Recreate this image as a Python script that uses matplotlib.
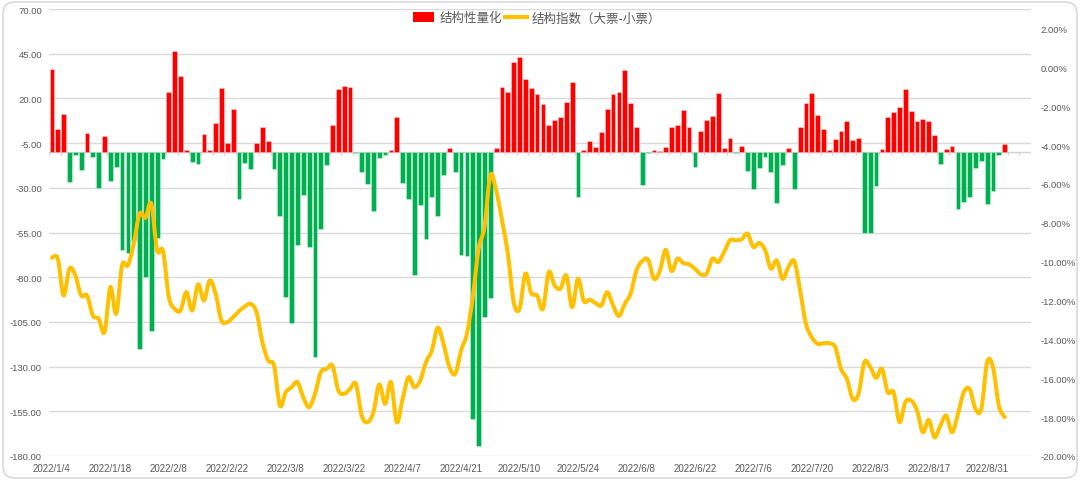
import numpy as np
import matplotlib
matplotlib.use('Agg')
import matplotlib.pyplot as plt
from matplotlib.path import Path
from matplotlib.patches import PathPatch, Patch, FancyBboxPatch
from matplotlib.lines import Line2D

# bar tops (left axis), bars hang from the category axis at BASE
bar_values = [
    36.5, 2.8, 11, -26.5, -11.7, -20.3, 0.8, -12.5, -30, -1.3,
    -26.1, -18.6, -64.9, -66.6, -59.5, -120.1, -80, -109.9, -58, -14.1,
    23.4, 46.5, 32.5, -8.7, -15.3, -16.8, -0.1, -8.9, 6.2, 25.8,
    -4.8, 14, -36, -16.4, -19.4, -4.8, 4, -3.7, -19.4, -45.5,
    -91.2, -105.6, -61.9, -33.9, -63, -124.4, -52.9, -17.5, 5.4, 25,
    27.1, 26.5, -10.8, -21.2, -27.6, -42.7, -13.2, -11.7, -9.1, 9.6,
    -27.2, -36.3, -78.7, -39.5, -58.7, -35, -46, -22.9, -8, -20.9,
    -67.7, -68.4, -159.5, -174.4, -102, -91.8, -7.8, 26.5, 23.4, 40.3,
    43, 30.8, 25.6, 22.4, 16.6, 5.3, 7.7, 9.6, 18.1, 29,
    -35.2, -8.9, -4, -7.4, 1.3, 14.2, 22.6, 23.4, 35.9, 17.4,
    4.1, -28.5, -10.8, -8.7, -9.3, -7.4, 4, 5.4, 13.7, 4.1,
    -18.6, 1.9, 8, 10.1, 22.8, -7.6, -2.2, -10.8, -6.9, -20.5,
    -30.6, -18.8, -12.5, -21.4, -38.4, -17, -8, -30.9, 4.1, 17.4,
    23, 10.5, 3, -8.7, -2.6, 1.7, 7.5, -3.3, -2, -55,
    -55, -28.9, -8.4, 9.6, 12.2, 15.3, 25, 12.7, 7.5, 8.4,
    7.5, -0.7, -16.6, -8.4, -6.9, -41.8, -37.7, -35.4, -19.2, -14.9,
    -39.1, -32, -11.7, -5.4,
]

# structure index (%), right axis
index_values = [
    -9.8, -9.85, -11.74, -10.36, -10.7, -11.74, -11.74, -12.77, -12.94, -13.63,
    -11.31, -12.68, -10.19, -10.19, -9.08, -7.53, -7.74, -7.02, -9.42, -9.45,
    -11.82, -12.43, -12.51, -11.57, -12.51, -11.17, -12.0, -10.97, -11.65, -13.03,
    -13.11, -12.86, -12.55, -12.31, -12.17, -12.6, -14.14, -15.09, -15.35, -17.41,
    -16.72, -16.46, -16.2, -16.98, -17.49, -16.8, -15.69, -15.52, -15.35, -16.63,
    -16.8, -16.55, -16.29, -17.92, -18.26, -17.75, -16.32, -17.32, -16.2, -18.26,
    -17.06, -15.95, -16.46, -16.12, -15.17, -14.57, -13.4, -14.23, -15.43, -15.77,
    -14.57, -13.71, -11.82, -9.33, -8.22, -5.56, -6.33, -7.87, -9.59, -12.08,
    -12.43, -10.62, -11.62, -11.74, -12.43, -10.54, -11.22, -11.39, -10.71, -12.34,
    -10.88, -12.03, -11.96, -12.13, -12.25, -11.57, -12.25, -12.8, -12.17, -11.65,
    -10.45, -9.97, -9.9, -10.88, -10.48, -9.39, -10.48, -9.85, -10.07, -10.14,
    -10.36, -10.65, -10.62, -9.85, -10.02, -9.5, -8.9, -8.9, -8.85, -8.56,
    -9.25, -9.04, -9.39, -10.36, -9.94, -10.88, -10.28, -9.97, -11.48, -13.2,
    -13.89, -14.23, -14.2, -14.2, -14.4, -15.52, -16.03, -17.06, -16.8, -15.17,
    -15.43, -15.98, -15.52, -16.72, -16.72, -18.26, -17.23, -17.15, -17.66, -18.78,
    -18.14, -19.04, -18.44, -17.92, -18.78, -17.84, -16.72, -16.55, -17.58, -17.58,
    -15.17, -15.43, -17.41, -18.0,
]

date_labels = ['2022/1/4', '2022/1/18', '2022/2/8', '2022/2/22', '2022/3/8',
               '2022/3/22', '2022/4/7', '2022/4/21', '2022/5/10', '2022/5/24',
               '2022/6/8', '2022/6/22', '2022/7/6', '2022/7/20', '2022/8/3',
               '2022/8/17', '2022/8/31']

BASE = -10          # where the category axis crosses the left axis
N_CATS = 168        # categories on the axis (last few empty)
RED, GREEN, GOLD = '#FF0000', '#00B050', '#FFC000'
GRID, TXT = '#D9D9D9', '#595959'

plt.rcParams['font.family'] = ['Liberation Sans', 'Noto Sans CJK SC', 'DejaVu Sans']

fig = plt.figure(figsize=(10.8, 4.81), dpi=100)
ax = fig.add_axes([49 / 1080, 1 - 457 / 481, 982 / 1080, 447 / 481])
ax2 = ax.twinx()

vals = np.array(bar_values)
x = np.arange(len(vals))
colors = [RED if v > BASE else GREEN for v in vals]
ax.bar(x, vals - BASE, bottom=BASE, width=0.82, color=colors,
       edgecolor=(1, 1, 1, 0.45), linewidth=0.5, zorder=2)

# category axis line with tick marks every 2 categories
ax.axhline(BASE, color='#D0D0D0', lw=1, zorder=1)
ax.vlines(np.arange(-0.5, N_CATS, 2), BASE - 1.8, BASE, color='#D0D0D0', lw=0.9, zorder=1)

ax.set_xlim(-0.5, N_CATS - 0.5)
ax.set_ylim(-180, 70)
ax.set_yticks(np.arange(-180, 71, 25))
ax.set_yticklabels([f'{t:.2f}' for t in np.arange(-180, 71, 25)])
ax.yaxis.grid(True, color=GRID, lw=1)
ax.set_axisbelow(True)
ax.set_xticks(np.arange(0, len(date_labels) * 10, 10))
ax.set_xticklabels(date_labels)
ax.tick_params(axis='both', length=0, colors=TXT, labelsize=7)
ax.tick_params(axis='y', pad=5, labelsize=6.8)
ax.tick_params(axis='x', pad=5)

# smoothed line (bezier through the points, like excel's smooth line)
pts = np.column_stack([np.arange(len(index_values)), index_values])
ext = np.vstack([pts[0], pts, pts[-1]])
verts = [pts[0]]
codes = [Path.MOVETO]
for i in range(len(pts) - 1):
    p0, p1, p2, p3 = ext[i], ext[i + 1], ext[i + 2], ext[i + 3]
    verts += [p1 + (p2 - p0) / 6, p2 - (p3 - p1) / 6, p2]
    codes += [Path.CURVE4] * 3
ax2.add_patch(PathPatch(Path(verts, codes), fill=False, ec=GOLD, lw=2.9,
                        capstyle='round', joinstyle='round', zorder=3))
ax2.set_ylim(-20, 3)
rt = np.arange(-20, 3, 2)
ax2.set_yticks(rt)
ax2.set_yticklabels([f'{t:.2f}%' for t in rt])
ax2.tick_params(axis='y', length=0, colors=TXT, labelsize=6.8, pad=7)

for a in (ax, ax2):
    for s in a.spines.values():
        s.set_visible(False)

handles = [Patch(facecolor=RED), Line2D([], [], color=GOLD, lw=3)]
ax.legend(handles, ['结构性量化', '结构指数（大票-小票）'], loc='center',
          bbox_to_anchor=(0.497, 0.98), ncol=2, frameon=False,
          prop={'family': ['Noto Sans CJK SC', 'DejaVu Sans'], 'size': 9},
          labelcolor=TXT, handlelength=1.7, handleheight=0.8,
          handletextpad=0.4, columnspacing=0.3)

border = FancyBboxPatch((3, 2), 1074, 476, boxstyle='round,pad=0,rounding_size=12',
                        transform=None, ec=GRID, fc='none', lw=1.2)
fig.patches.append(border)

fig.savefig('out.png', dpi=100)
